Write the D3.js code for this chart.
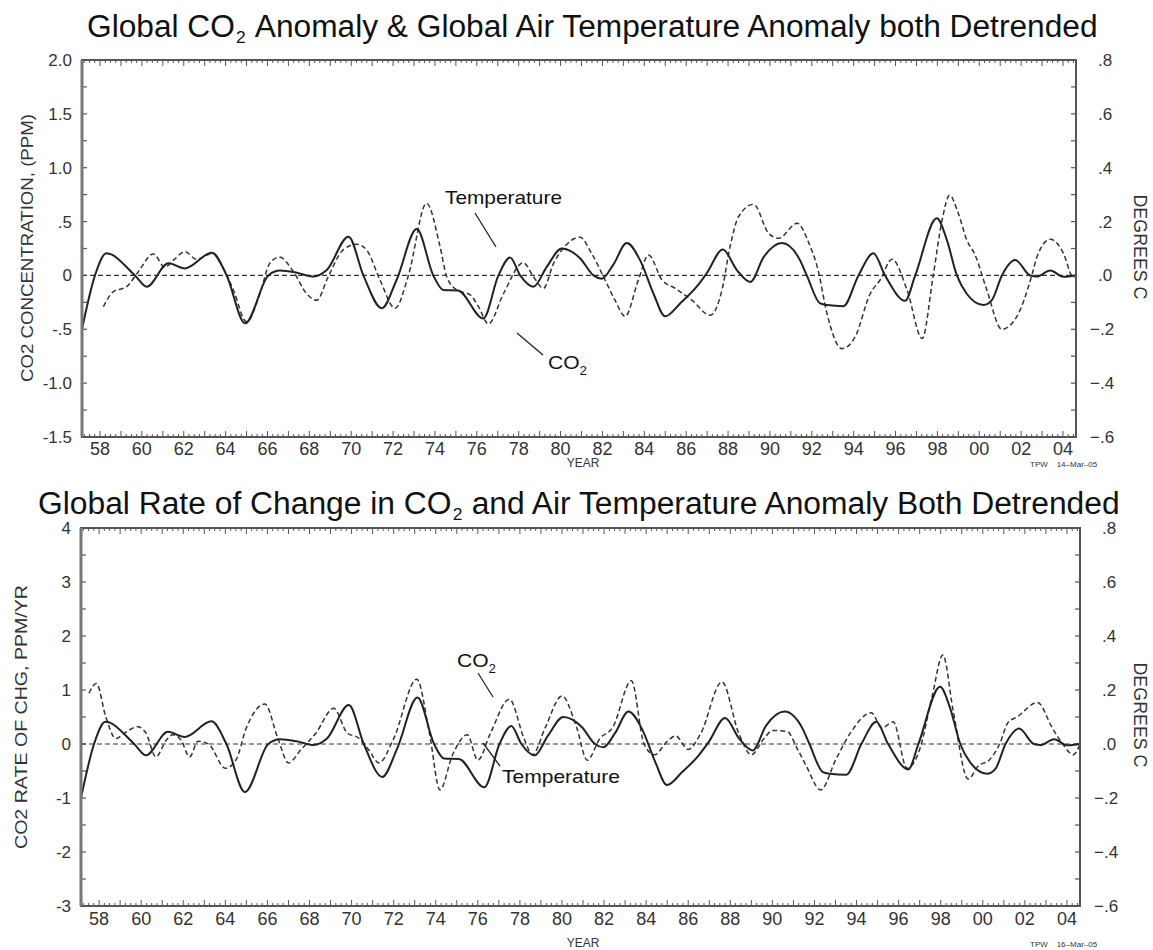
<!DOCTYPE html>
<html><head><meta charset="utf-8">
<script src="https://cdn.jsdelivr.net/npm/d3@7"></script>
<style>body{margin:0;background:#fff}svg{display:block}</style>
</head><body>
<script>
// ---- Data ----
// Detrended global air temperature anomaly (°C) — same series in both panels (solid line)
const tempYears = [1957.14,1957.76,1958.3,1959.67,1960.23,1961.27,1962.06,1963.34,1964.05,1964.93,1966.04,1966.6,1967.4,1968.2,1968.83,1969.87,1970.58,1971.46,1972.17,1973.13,1973.92,1974.4,1975.1,1976.31,1977.03,1977.59,1978.07,1978.7,1979.34,1980.06,1980.93,1981.57,1981.97,1982.52,1983.16,1983.8,1984.44,1984.99,1985.71,1986.5,1986.98,1987.75,1988.42,1989.06,1989.7,1990.57,1991.44,1991.76,1992.4,1992.72,1993.51,1994.23,1994.94,1995.5,1996.46,1996.94,1997.97,1998.45,1998.93,1999.4,2000.2,2000.6,2001.08,2001.72,2002.43,2002.75,2003.39,2004.02,2004.62];
const tempValues = [-0.2,0,0.082,0,-0.042,0.045,0.026,0.084,0,-0.178,0,0.018,0.01,-0.004,0.02,0.144,0,-0.122,-0.016,0.172,0,-0.054,-0.056,-0.16,0,0.067,0,-0.042,0.032,0.1,0.064,0,-0.012,0.04,0.12,0.056,-0.068,-0.152,-0.104,-0.042,0.008,0.096,0.02,-0.024,0.068,0.12,0.056,0,-0.104,-0.11,-0.114,0,0.082,0,-0.094,0,0.212,0.132,0,-0.068,-0.11,-0.092,0,0.057,0,-0.004,0.018,-0.005,0];

// Detrended global CO2 anomaly (ppm) — top panel dashed
const co2Years = [1958.16,1958.64,1959.27,1959.83,1960.55,1961.1,1961.5,1962.06,1962.6,1963.4,1963.8,1964.37,1965.0,1965.64,1966.1,1966.57,1967.24,1967.87,1968.35,1968.9,1969.6,1970.26,1970.74,1971.37,1972.1,1972.73,1973.6,1974.24,1974.56,1975.04,1975.68,1976.08,1976.55,1977.27,1978.22,1978.7,1979.18,1979.66,1980.06,1980.93,1981.48,1982.12,1982.6,1983.08,1983.72,1984.2,1984.84,1985.48,1986.27,1987.15,1987.71,1988.1,1988.5,1989.22,1989.94,1990.42,1991.3,1991.86,1992.3,1992.72,1993.44,1994.07,1994.79,1995.27,1995.83,1996.55,1997.27,1997.8,1998.22,1998.58,1999.0,1999.4,1999.8,2000.36,2001.08,2001.8,2002.51,2002.75,2003.39,2004.02,2004.42,2004.62];
const co2Values = [-0.29,-0.15,-0.105,0.035,0.2,0.075,0.14,0.22,0.15,0.205,0.1,-0.135,-0.43,-0.17,0.11,0.17,0.035,-0.17,-0.23,-0.012,0.235,0.29,0.235,-0.04,-0.305,0,0.67,0.27,-0.01,-0.135,-0.18,-0.29,-0.45,-0.17,0.118,-0.01,-0.12,0.11,0.235,0.355,0.205,-0.04,-0.23,-0.38,-0.04,0.19,-0.04,-0.12,-0.23,-0.37,-0.135,0.27,0.545,0.66,0.39,0.345,0.485,0.3,0.05,-0.35,-0.68,-0.57,-0.17,-0.04,0.15,-0.135,-0.585,0,0.51,0.745,0.575,0.33,0.19,-0.135,-0.5,-0.38,0,0.17,0.335,0.205,0,-0.02];

// Detrended global CO2 rate of change (ppm/yr) — bottom panel dashed
const rateYears = [1957.52,1957.87,1958.32,1958.8,1959.2,1959.83,1960.23,1960.7,1961.19,1961.5,1961.9,1962.3,1962.7,1963.2,1964.0,1964.5,1965.0,1965.88,1966.5,1967.0,1967.6,1968.3,1969.15,1969.8,1970.3,1970.8,1971.3,1972.0,1973.1,1973.7,1974.2,1974.8,1975.5,1976.0,1976.6,1977.5,1978.2,1978.6,1979.2,1980.0,1980.7,1981.2,1981.8,1982.4,1983.3,1983.9,1984.4,1985.0,1985.4,1986.0,1986.6,1987.6,1988.4,1989.0,1989.6,1990.0,1990.7,1991.2,1991.6,1992.3,1993.0,1993.7,1994.7,1995.2,1995.74,1996.4,1997.0,1997.6,1998.1,1998.6,1999.3,1999.8,2000.3,2000.8,2001.2,2001.63,2002.6,2003.3,2003.8,2004.3,2004.62];
const rateValues = [0.94,1.12,0.5,0.1,0.2,0.32,0.2,-0.24,0.07,0.17,0.07,-0.24,0.05,0.0,-0.45,-0.3,0.3,0.74,0.1,-0.35,-0.1,0.2,0.66,0.2,0.12,-0.1,-0.35,0.1,1.2,0.2,-0.85,-0.2,0.17,-0.3,0.2,0.83,0.1,-0.2,0.3,0.89,0.3,-0.3,0.1,0.3,1.17,0.0,-0.2,0.05,0.15,-0.1,0.2,1.15,0.2,-0.2,0.1,0.25,0.23,-0.1,-0.4,-0.85,-0.3,0.2,0.58,0.3,0.41,-0.45,-0.1,0.9,1.65,0.6,-0.65,-0.4,-0.3,0.0,0.4,0.5,0.77,0.3,0.0,-0.2,0.0];

// Tick labels
const yearTicks = d3.range(1958, 2005, 2);
const yearLabels = yearTicks.map(y => String(y % 100).padStart(2, "0"));
const topLeftTicks = [2.0,1.5,1.0,0.5,0,-0.5,-1.0,-1.5];
const topLeftLabels = ["2.0","1.5","1.0",".5","0","-.5","-1.0","-1.5"];
const rightTicks = [0.8,0.6,0.4,0.2,0,-0.2,-0.4,-0.6];
const rightLabels = [".8",".6",".4",".2",".0","\u2212.2","\u2212.4","\u2212.6"];
const botLeftTicks = [4,3,2,1,0,-1,-2,-3];
const botLeftLabels = ["4","3","2","1","0","-1","-2","-3"];

const W = 1153, H = 950;
const svg = d3.select("body").append("svg").attr("width", W).attr("height", H)
  .style("font-family", "'Liberation Sans', Arial, sans-serif");

const axisColor = "#555", lineColor = "#222", labelColor = "#333";

// title with subscript "2" built from separate text pieces, scaled to a target width
function title(parent, x0, y0, parts, targetW) {
  const g = parent.append("g");
  const a = g.append("text").attr("x", 0).attr("y", 0).attr("font-size", 31).attr("fill", "#111").text(parts[0]);
  const w1 = a.node().getComputedTextLength();
  const s = g.append("text").attr("x", w1 + 1).attr("y", 6).attr("font-size", 17).attr("fill", "#111").text("2");
  const w2 = s.node().getComputedTextLength();
  const gap = 9;
  const b = g.append("text").attr("x", w1 + w2 + 1 + gap).attr("y", 0).attr("font-size", 31).attr("fill", "#111").text(parts[1]);
  const w3 = b.node().getComputedTextLength();
  const total = w1 + w2 + 1 + gap + w3;
  g.attr("transform", `translate(${x0},${y0}) scale(${targetW / total},1)`);
}

function panel(o) {
  const x = d3.scaleLinear().domain([1957.14, 2004.62]).range([o.x0, o.x1]);
  const yL = d3.scaleLinear().domain(o.leftDomain).range([o.y1, o.y0]);
  const yR = d3.scaleLinear().domain([-0.6, 0.8]).range([o.y1, o.y0]);
  const g = svg.append("g");

  // minor x ticks (quarter year) and yearly ticks, top and bottom, inward
  const quarter = d3.range(1957.25, 2004.6, 0.25);
  quarter.forEach(v => {
    const isYear = Math.abs(v - Math.round(v)) < 1e-6;
    const len = isYear ? 6 : 3;
    const xx = x(v);
    g.append("line").attr("x1", xx).attr("x2", xx).attr("y1", o.y1).attr("y2", o.y1 - len)
      .attr("stroke", axisColor).attr("stroke-width", 1);
    g.append("line").attr("x1", xx).attr("x2", xx).attr("y1", o.y0).attr("y2", o.y0 + len)
      .attr("stroke", axisColor).attr("stroke-width", 1);
  });
  // left ticks
  o.leftMinor.forEach(v => {
    g.append("line").attr("x1", o.x0).attr("x2", o.x0 + 5).attr("y1", yL(v)).attr("y2", yL(v))
      .attr("stroke", axisColor).attr("stroke-width", 1.2);
  });
  // right ticks
  d3.range(-0.6, 0.81, 0.1).forEach(v => {
    g.append("line").attr("x1", o.x1).attr("x2", o.x1 - 5).attr("y1", yR(v)).attr("y2", yR(v))
      .attr("stroke", axisColor).attr("stroke-width", 1.2);
  });

  // zero line (dashed)
  g.append("line").attr("x1", o.x0).attr("x2", o.x1).attr("y1", yL(0)).attr("y2", yL(0))
    .attr("stroke", "#333").attr("stroke-width", 1.2).attr("stroke-dasharray", "5,3");

  // series
  const dashedPts = o.dashYears.map((yr, i) => [yr, o.dashValues[i]]);
  const solidPts = tempYears.map((yr, i) => [yr, tempValues[i]]);
  g.append("path").datum(dashedPts)
    .attr("d", d3.line().x(d => x(d[0])).y(d => yL(d[1])).curve(d3.curveMonotoneX))
    .attr("fill", "none").attr("stroke", "#333").attr("stroke-width", 1.5).attr("stroke-dasharray", "5,3");
  g.append("path").datum(solidPts)
    .attr("d", d3.line().x(d => x(d[0])).y(d => yR(d[1])).curve(d3.curveMonotoneX))
    .attr("fill", "none").attr("stroke", lineColor).attr("stroke-width", 2);

  // frame
  g.append("rect").attr("x", o.x0).attr("y", o.y0).attr("width", o.x1 - o.x0).attr("height", o.y1 - o.y0)
    .attr("fill", "none").attr("stroke", axisColor).attr("stroke-width", 2);
  g.append("line").attr("x1", o.x0).attr("x2", o.x0).attr("y1", o.y0).attr("y2", o.y1)
    .attr("stroke", "#777").attr("stroke-width", 3);

  // left labels
  o.leftTicks.forEach((v, i) => {
    g.append("text").attr("x", o.x0 - 10).attr("y", yL(v) + 6).attr("text-anchor", "end")
      .attr("font-size", 17).attr("fill", labelColor).text(o.leftLabels[i]);
  });
  // right labels
  rightTicks.forEach((v, i) => {
    g.append("text").attr("x", o.x1 + (rightLabels[i].startsWith("\u2212") ? 14 : 22)).attr("y", yR(v) + 6)
      .attr("text-anchor", "start").attr("font-size", 17).attr("fill", labelColor).text(rightLabels[i]);
  });
  // year labels
  yearTicks.forEach((v, i) => {
    g.append("text").attr("x", x(v)).attr("y", o.y1 + o.yearDy).attr("text-anchor", "middle")
      .attr("font-size", 18).attr("fill", labelColor).text(yearLabels[i]);
  });
  // axis titles
  g.append("text").attr("transform", `translate(${o.leftTitleX},${o.leftTitleY}) rotate(-90)`)
    .attr("text-anchor", "middle").attr("font-size", 17).attr("fill", labelColor)
    .attr("textLength", o.leftTitleW).attr("lengthAdjust", "spacingAndGlyphs").text(o.leftTitle);
  g.append("text").attr("transform", `translate(${1134},${o.rightTitleY}) rotate(90)`)
    .attr("text-anchor", "middle").attr("font-size", 18).attr("fill", labelColor)
    .attr("textLength", 105).attr("lengthAdjust", "spacingAndGlyphs").text("DEGREES C");
  g.append("text").attr("x", 583).attr("y", o.yearLabelY).attr("text-anchor", "middle")
    .attr("font-size", 12).attr("fill", labelColor).text("YEAR");
  g.append("text").attr("x", 1030).attr("y", o.yearLabelY).attr("font-size", 8).attr("fill", labelColor)
    .style("white-space", "pre").text("TPW    " + o.stamp);

  title(g, o.titleX, o.titleY, o.title, o.titleW);

  return {x, yL, yR, g};
}

function label(g, xx, yy, parts, w) {
  const t = g.append("text").attr("x", xx).attr("y", yy).attr("font-size", 19).attr("fill", "#111")
    .attr("textLength", w).attr("lengthAdjust", "spacingAndGlyphs");
  t.append("tspan").text(parts[0]);
  if (parts.length > 1) t.append("tspan").attr("font-size", 12).attr("dy", 6).text(parts[1]);
}

const p1 = panel({
  x0: 82, x1: 1076, y0: 60, y1: 437,
  leftDomain: [-1.5, 2.0], leftTicks: topLeftTicks, leftLabels: topLeftLabels,
  leftMinor: d3.range(-1.5, 2.01, 0.25),
  dashYears: co2Years, dashValues: co2Values,
  leftTitle: "CO2 CONCENTRATION, (PPM)", leftTitleX: 33, leftTitleY: 248, leftTitleW: 268,
  rightTitleY: 247, yearDy: 18, yearLabelY: 467,
  stamp: "14\u2013Mar\u201305",
  title: ["Global CO", "Anomaly & Global Air Temperature Anomaly both Detrended"],
  titleX: 87, titleY: 37, titleW: 1011
});
const p2 = panel({
  x0: 81, x1: 1080, y0: 528, y1: 906,
  leftDomain: [-3, 4], leftTicks: botLeftTicks, leftLabels: botLeftLabels,
  leftMinor: d3.range(-3, 4.01, 0.5),
  dashYears: rateYears, dashValues: rateValues,
  leftTitle: "CO2 RATE OF CHG, PPM/YR", leftTitleX: 27, leftTitleY: 717, leftTitleW: 264,
  rightTitleY: 715, yearDy: 19, yearLabelY: 947,
  stamp: "16\u2013Mar\u201305",
  title: ["Global Rate of Change in CO", "and Air Temperature Anomaly Both Detrended"],
  titleX: 38, titleY: 514, titleW: 1082
});

// annotations (top)
label(p1.g, 445, 204, ["Temperature"], 117);
p1.g.append("line").attr("x1", 475).attr("y1", 213).attr("x2", 496).attr("y2", 247).attr("stroke", "#222").attr("stroke-width", 1.3);
label(p1.g, 548, 369, ["CO", "2"], 39);
p1.g.append("line").attr("x1", 517).attr("y1", 333).attr("x2", 543).attr("y2", 355).attr("stroke", "#222").attr("stroke-width", 1.3);
// annotations (bottom)
label(p2.g, 457, 667, ["CO", "2"], 39);
p2.g.append("line").attr("x1", 478).attr("y1", 673).attr("x2", 493).attr("y2", 697).attr("stroke", "#222").attr("stroke-width", 1.3);
label(p2.g, 502, 783, ["Temperature"], 118);
p2.g.append("line").attr("x1", 483).attr("y1", 743).attr("x2", 500).attr("y2", 766).attr("stroke", "#222").attr("stroke-width", 1.3);
</script>
</body></html>
